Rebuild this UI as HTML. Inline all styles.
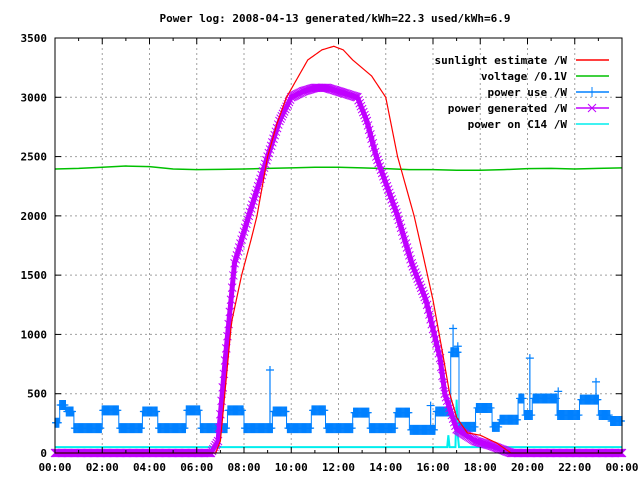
<!DOCTYPE html>
<html><head><meta charset="utf-8"><style>
html,body{margin:0;padding:0;background:#fff}
svg text{font-family:"DejaVu Sans Mono","Liberation Mono",monospace;font-size:11px;font-weight:bold}
</style></head><body>
<svg id="chart" width="640" height="480" viewBox="0 0 640 480" xmlns="http://www.w3.org/2000/svg">
<rect width="640" height="480" fill="#fff"/>
<text x="335" y="22" text-anchor="middle">Power log: 2008-04-13 generated/kWh=22.3 used/kWh=6.9</text>
<g id="grid"></g>
<g id="series"></g>
<rect x="55" y="38" width="567" height="415" fill="none" stroke="#000" stroke-width="1"/>
<g id="axes"></g>
<g id="legend"></g>
</svg>
<script>
const yTicks=[0,500,1000,1500,2000,2500,3000,3500];
const xTickHours=[0,2,4,6,8,10,12,14,16,18,20,22,24];
const xTickLabels=["00:00","02:00","04:00","06:00","08:00","10:00","12:00","14:00","16:00","18:00","20:00","22:00","00:00"];
const sunT=[0,6.8,7.0,7.47,7.9,8.3,8.55,9.0,9.4,9.8,10.7,11.3,11.8,12.2,12.6,13.4,14.0,14.5,15.2,15.6,16.0,16.4,16.7,17.0,17.45,18.0,18.7,19.3,24];
const sunV=[0,0,100,1100,1500,1800,2000,2500,2780,3000,3315,3400,3430,3400,3315,3180,3000,2500,2000,1650,1290,850,506,300,170,150,84,0,0];
const voltT=[0,1,2,3,4,5,6,7,8,9,10,11,12,13,14,15,16,17,18,19,20,21,22,23,24];
const voltV=[2395,2400,2410,2420,2415,2395,2390,2392,2395,2400,2405,2410,2410,2405,2398,2390,2390,2385,2385,2390,2398,2400,2395,2400,2405];
const genT=[0,6.6,6.9,7.2,7.6,8.2,9.0,9.5,10.0,10.5,11.0,11.5,12.0,12.8,13.2,13.6,14.5,15.1,15.7,16.3,16.5,17.0,17.8,18.5,19.3,24];
const genV=[0,0,100,780,1600,2000,2500,2800,3000,3050,3080,3080,3050,3000,2800,2500,2000,1600,1290,800,500,200,100,60,0,0];
const useT=[0,0.2,0.45,0.8,2.0,2.7,3.7,4.35,5.55,6.15,7.3,8.0,9.2,9.8,10.85,11.45,12.6,13.3,14.4,15.0,16.1,16.75,17.1,17.8,18.5,18.8,19.6,19.85,20.2,21.25,22.2,23.0,23.5,24];
const useV=[255,405,350,210,360,210,350,210,360,210,360,210,350,210,360,210,340,210,340,195,350,850,220,380,220,280,460,320,460,320,450,320,270,270];
const spikeT=[9.1,15.9,16.85,17.05,20.1,21.3,22.9];
const spikeV=[700,400,1050,900,800,520,600];
const c14T=[0,16.6,16.65,16.7,16.95,17.0,17.05,17.1,24];
const c14V=[50,50,150,50,50,450,150,50,50];
const legendNames=["sunlight estimate /W","voltage /0.1V","power use /W","power generated /W","power on C14 /W"];
const legendColors=["#ff0000","#00c000","#0080ff","#c000ff","#00eeee"];

const X0=55,X1=622,Y0=453,Y1=38;
const X=h=>X0+h*(X1-X0)/24;
const Y=v=>Y0-v*(Y0-Y1)/3500;
const NS="http://www.w3.org/2000/svg";
function mk(tag,attrs,parent){const e=document.createElementNS(NS,tag);for(const k in attrs)e.setAttribute(k,attrs[k]);parent.appendChild(e);return e;}
const grid=document.getElementById('grid'),axes=document.getElementById('axes'),ser=document.getElementById('series'),leg=document.getElementById('legend');
yTicks.forEach(v=>{
  if(v>0&&v<3500){const l=mk('line',{x1:X0,x2:X1,y1:Y(v),y2:Y(v),stroke:'#a0a0a0','stroke-dasharray':'2,3'},grid);
  
  }
  const t=mk('text',{x:X0-8,y:Y(v)+4,'text-anchor':'end'},axes);t.textContent=v;
  
  
  mk('line',{x1:X0,x2:X0+6,y1:Y(v),y2:Y(v),stroke:'#000'},axes);
  mk('line',{x1:X1,x2:X1-6,y1:Y(v),y2:Y(v),stroke:'#000'},axes);
});
for(let h=1;h<24;h++){mk('line',{x1:X(h),x2:X(h),y1:Y0,y2:Y0-(h%2?3:6),stroke:'#000'},axes);mk('line',{x1:X(h),x2:X(h),y1:Y1,y2:Y1+(h%2?3:6),stroke:'#000'},axes);}
xTickHours.forEach((h,i)=>{
  if(h>0&&h<24){const l=mk('line',{x1:X(h),x2:X(h),y1:Y1,y2:Y0,stroke:'#a0a0a0','stroke-dasharray':'2,3'},grid);
  
  }
  const t=mk('text',{x:X(h),y:471,'text-anchor':'middle'},axes);t.textContent=xTickLabels[i];
  
  
});
function interp(T,V,h){for(let i=1;i<T.length;i++){if(h<=T[i]){const f=(h-T[i-1])/(T[i]-T[i-1]||1);return V[i-1]+f*(V[i]-V[i-1]);}}return V[V.length-1];}
function stepv(T,V,h){let v=V[0];for(let i=0;i<T.length;i++){if(h>=T[i])v=V[i];}return v;}
function poly(T,V,color,name,w){const p=mk('polyline',{points:T.map((t,i)=>X(t)+','+Y(V[i])).join(' '),fill:'none',stroke:color,'stroke-width':w||1},ser);
  
  return p;}
let c14pts=[];c14T.forEach((t,i)=>{c14pts.push(X(t)+','+Y(c14V[i]));});
const c14=mk('polyline',{points:c14pts.join(' '),fill:'none',stroke:'#00eeee','stroke-width':2},ser);


poly(voltT,voltV,'#00c000','voltage-line',1.5);
let up=[];useT.forEach((t,i)=>{if(i>0)up.push(X(t)+','+Y(useV[i-1]));up.push(X(t)+','+Y(useV[i]));});
const ul=mk('polyline',{points:up.join(' '),fill:'none',stroke:'#0080ff','stroke-width':1},ser);


const um=mk('g',{stroke:'#0080ff','stroke-width':1.2},ser);


for(let h=0;h<=24;h+=0.04){const x=X(h),y=Y(stepv(useT,useV,h));mk('path',{d:`M${x-3},${y}h6M${x},${y-5}v10`},um);}
spikeT.forEach((t,i)=>{const x=X(t),y=Y(spikeV[i]),yb=Y(stepv(useT,useV,t));mk('path',{d:`M${x},${yb}V${y}M${x-4},${y}h8M${x},${y-4}v8`},um);});
const gp=[];for(let h=0;h<=24.001;h+=0.05)gp.push([h,interp(genT,genV,h)]);
const gl=mk('polyline',{points:gp.map(p=>X(p[0])+','+Y(p[1])).join(' '),fill:'none',stroke:'#c000ff','stroke-width':5,'stroke-linejoin':'round'},ser);


const gm=mk('g',{stroke:'#c000ff','stroke-width':1},ser);


gp.forEach(p=>{const x=X(p[0]),y=Y(p[1]);mk('path',{d:`M${x-4},${y-4}l8,8M${x-4},${y+4}l8,-8`},gm);});
const sp=[];for(let h=0;h<=24.001;h+=0.05)sp.push(h);
const sl=mk('polyline',{points:sp.map(h=>X(h)+','+Y(interp(sunT,sunV,h))).join(' '),fill:'none',stroke:'#ff0000','stroke-width':1.2},ser);


legendNames.forEach((n,i)=>{const y=60+i*16;
  const t=mk('text',{x:567,y:y+4,'text-anchor':'end'},leg);t.textContent=n;
  
  
  const l=mk('line',{x1:576,x2:609,y1:y,y2:y,stroke:legendColors[i],'stroke-width':1.5},leg);
  
  
  if(i==2)mk('path',{d:'M588,'+(y)+'h8M592,'+(y-5)+'v10',stroke:legendColors[i]},leg);
  if(i==3)mk('path',{d:`M588,${y-4}l8,8M588,${y+4}l8,-8`,stroke:legendColors[i]},leg);
});
</script>
</body></html>
